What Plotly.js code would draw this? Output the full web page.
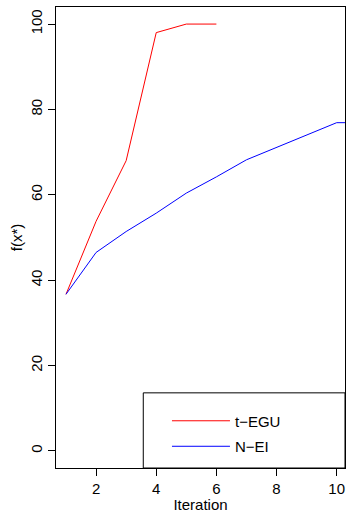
<!DOCTYPE html>
<html>
<head>
<meta charset="utf-8">
<script src="https://cdn.plot.ly/plotly-3.0.1.min.js"></script>
<style>
  html, body { margin: 0; padding: 0; background: #fff; }
  #chart { width: 347px; height: 513px; }
</style>
</head>
<body>
<div id="chart"></div>
<script>
// Best objective value found so far, per iteration
const iterTEGU = [1, 2, 3, 4, 5, 6];
const valTEGU  = [36.7, 53.8, 68.0, 98.0, 100, 100];

const iterNEI = [1, 2, 3, 4, 5, 6, 7, 8, 9, 10, 11];
const valNEI  = [36.7, 46.5, 51.4, 55.7, 60.4, 64.2, 68.2, 71.1, 74.0, 76.9, 76.9];

const seriesNames = ['t\u2212EGU', 'N\u2212EI'];
const xTicks = [2, 4, 6, 8, 10];
const yTicks = [0, 20, 40, 60, 80, 100];

const FONT = 'Liberation Sans, Arial, Helvetica, sans-serif';

const traces = [
  {
    x: iterTEGU, y: valTEGU, name: seriesNames[0],
    type: 'scatter', mode: 'lines',
    line: { color: '#ff0000', width: 1 },
    legendgroup: 'a'
  },
  {
    x: iterNEI, y: valNEI, name: seriesNames[1],
    type: 'scatter', mode: 'lines',
    line: { color: '#0000ff', width: 1 },
    legendgroup: 'b'
  }
];

const axisCommon = {
  showgrid: false, zeroline: false,
  showline: true, linecolor: '#000', linewidth: 1, mirror: true,
  ticks: 'outside', ticklen: 7, tickwidth: 1, tickcolor: '#000',
  tickfont: { family: FONT, size: 15, color: '#000' }
};

const layout = {
  width: 347, height: 513,
  margin: { l: 56, r: 2, t: 7, b: 45 },
  paper_bgcolor: '#fff', plot_bgcolor: '#fff',
  font: { family: FONT, size: 15, color: '#000' },
  xaxis: Object.assign({}, axisCommon, {
    range: [0.667, 10.277],
    tickmode: 'array', tickvals: xTicks, ticktext: xTicks.map(String),
    title: { text: 'Iteration', font: { family: FONT, size: 15 }, standoff: 4 }
  }),
  yaxis: Object.assign({}, axisCommon, {
    range: [-4, 104],
    tickmode: 'array', tickvals: yTicks, ticktext: yTicks.map(String),
    tickangle: -90,
    title: { text: 'f(x*)', font: { family: FONT, size: 15 }, standoff: 1 }
  }),
  showlegend: true,
  legend: {
    x: 0.384, y: 0.1377, xanchor: 'left', yanchor: 'top',
    bgcolor: 'rgba(0,0,0,0)', borderwidth: 0,
    traceorder: 'grouped', tracegroupgap: 3,
    itemwidth: 58,
    font: { family: FONT, size: 15, color: '#000' }
  },
  shapes: [
    {
      type: 'rect', xref: 'paper', yref: 'paper',
      x0: 0.302, x1: 1.0, y0: 0, y1: 0.163,
      line: { color: '#000', width: 1 }, fillcolor: 'rgba(0,0,0,0)'
    }
  ]
};

Plotly.newPlot('chart', traces, layout, { staticPlot: true, displayModeBar: false });
</script>
</body>
</html>
